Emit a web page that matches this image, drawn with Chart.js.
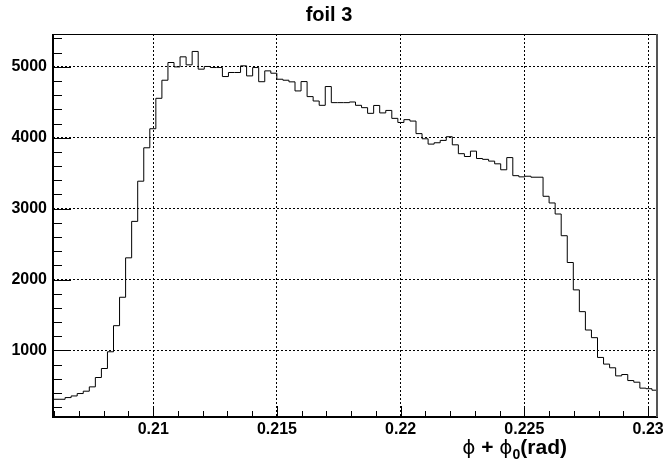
<!DOCTYPE html>
<html>
<head>
<meta charset="utf-8">
<title>foil 3</title>
<script src="https://cdn.jsdelivr.net/npm/chart.js@4/dist/chart.umd.min.js"></script>
<style>
  html, body { margin: 0; padding: 0; background: #fff; }
  #wrap { width: 663px; height: 461px; }
</style>
</head>
<body>
<div id="wrap"><canvas id="foil-chart" width="663" height="461"></canvas></div>
<script>
// ---- histogram data (100 bins) ----
const binLow = 0.20595;
const binHigh = 0.2304;

const counts = [
  311, 335, 358, 392, 425, 486, 618, 745, 981, 1349,
  1750, 2306, 2820, 3387, 3858, 4127, 4556, 4811, 5061, 4999,
  5141, 5028, 5217, 4967, 5005, 4990, 4990, 4863, 4920, 4920,
  5014, 4872, 4990, 4790, 4943, 4910, 4825, 4811, 4788, 4660,
  4792, 4580, 4518, 4457, 4722, 4495, 4495, 4495, 4504, 4457,
  4424, 4344, 4455, 4350, 4385, 4273, 4215, 4255, 4235, 4058,
  3985, 3910, 3929, 3962, 4014, 3900, 3775, 3735, 3811, 3707,
  3695, 3670, 3632, 3548, 3720, 3465, 3448, 3457, 3443, 3443,
  3174, 3080, 2924, 2618, 2240, 1854, 1547, 1288, 1180, 901,
  807, 755, 641, 660, 575, 552, 468, 460, 439, 425
];

const xTickValues = [0.21, 0.215, 0.22, 0.225, 0.23];
const xTickLabels = ['0.21', '0.215', '0.22', '0.225', '0.23'];
const xMinorTicks = [0.206, 0.207, 0.208, 0.209, 0.211, 0.212, 0.213, 0.214, 0.216, 0.217,
  0.218, 0.219, 0.221, 0.222, 0.223, 0.224, 0.226, 0.227, 0.228, 0.229];

const yMin = 61;
const yMax = 5463;
const yTickValues = [1000, 2000, 3000, 4000, 5000];
const yTickLabels = ['1000', '2000', '3000', '4000', '5000'];
const yMinorTicks = [200, 400, 600, 800, 1200, 1400, 1600, 1800, 2200, 2400, 2600, 2800,
  3200, 3400, 3600, 3800, 4200, 4400, 4600, 4800, 5200, 5400];

const FONT = '"Liberation Sans", Arial, Helvetica, sans-serif';

// step points at bin edges (value of bin i held from edge i to edge i+1)
const binWidth = (binHigh - binLow) / counts.length;
const points = [{ x: binLow, y: counts[0] }];
counts.forEach((v, i) => points.push({ x: binLow + (i + 1) * binWidth, y: v }));

// frame + ROOT style inner ticks
const framePlugin = {
    id: 'frame',
    afterDraw(chart) {
        const { ctx, chartArea: a, scales } = chart;
        ctx.save();
        ctx.strokeStyle = '#000';
        ctx.lineWidth = 1;

        // y ticks
        yTickValues.forEach(v => {
            const y = Math.round(scales.y.getPixelForValue(v)) + 0.5;
            ctx.beginPath(); ctx.moveTo(a.left, y); ctx.lineTo(a.left + 18, y); ctx.stroke();
        });
        yMinorTicks.forEach(v => {
            const y = Math.round(scales.y.getPixelForValue(v)) + 0.5;
            ctx.beginPath(); ctx.moveTo(a.left, y); ctx.lineTo(a.left + 9, y); ctx.stroke();
        });
        // x ticks
        xTickValues.forEach(v => {
            const x = Math.round(scales.x.getPixelForValue(v)) + 0.5;
            ctx.beginPath(); ctx.moveTo(x, a.bottom); ctx.lineTo(x, a.bottom - 11); ctx.stroke();
        });
        xMinorTicks.forEach(v => {
            const x = Math.round(scales.x.getPixelForValue(v)) + 0.5;
            ctx.beginPath(); ctx.moveTo(x, a.bottom); ctx.lineTo(x, a.bottom - 6); ctx.stroke();
        });

        // box
        ctx.strokeRect(a.left + 0.5, a.top + 0.5, a.right - a.left - 1, a.bottom - a.top - 1);
        ctx.lineWidth = 2;
        ctx.beginPath(); ctx.moveTo(a.left, a.top); ctx.lineTo(a.left, a.bottom); ctx.lineTo(a.right, a.bottom); ctx.stroke();
        ctx.strokeStyle = '#555';
        ctx.beginPath(); ctx.moveTo(a.right - 1, a.top); ctx.lineTo(a.right - 1, a.bottom); ctx.stroke();

        // axis title: phi + phi_0(rad), right aligned
        const PHI = '"DejaVu Sans", ' + FONT;
        const parts = [
            { t: '\u03D5', f: '20px ' + PHI, dy: 0 },
            { t: ' + ', f: 'bold 21px ' + FONT, dy: 0 },
            { t: '\u03D5', f: '20px ' + PHI, dy: 0 },
            { t: '0', f: 'bold 14px ' + FONT, dy: 5 },
            { t: '(rad)', f: 'bold 21px ' + FONT, dy: 0 }
        ];
        let total = 0;
        parts.forEach(p => { ctx.font = p.f; p.w = ctx.measureText(p.t).width; total += p.w; });
        let x = 567 - total;
        const base = 454;
        ctx.fillStyle = '#000';
        ctx.textBaseline = 'alphabetic';
        ctx.textAlign = 'left';
        parts.forEach(p => { ctx.font = p.f; ctx.fillText(p.t, x, base + p.dy); x += p.w; });
        ctx.restore();
    }
};

new Chart(document.getElementById('foil-chart'), {
    type: 'line',
    data: {
        datasets: [{
            data: points,
            borderColor: '#000',
            borderWidth: 1,
            pointRadius: 0,
            stepped: 'before',
            fill: false
        }]
    },
    options: {
        responsive: false,
        animation: false,
        layout: { padding: { left: 0, right: 5, top: 0, bottom: 0 } },
        plugins: {
            legend: { display: false },
            tooltip: { enabled: false },
            title: {
                display: true,
                text: 'foil 3',
                color: '#000',
                font: { family: FONT, size: 20, weight: 'bold' },
                padding: { top: 3, bottom: 7 }
            }
        },
        scales: {
            x: {
                type: 'linear',
                min: binLow,
                max: binHigh,
                afterBuildTicks: s => { s.ticks = xTickValues.map(v => ({ value: v })); },
                afterFit: s => { s.height = 44; s.paddingLeft = 0; s.paddingRight = 0; },
                ticks: {
                    callback: (v, i) => xTickLabels[i],
                    color: '#000',
                    font: { family: FONT, size: 16, weight: 'bold' },
                    padding: 3,
                    maxRotation: 0,
                    autoSkip: false
                },
                grid: { color: '#000', lineWidth: 1, drawTicks: false },
                border: { display: false, dash: [2, 2] }
            },
            y: {
                min: yMin,
                max: yMax,
                afterBuildTicks: s => { s.ticks = yTickValues.map(v => ({ value: v })); },
                afterFit: s => { s.width = 53; s.paddingTop = 0; s.paddingBottom = 0; },
                ticks: {
                    callback: (v, i) => yTickLabels[i],
                    color: '#000',
                    font: { family: FONT, size: 16, weight: 'bold' },
                    padding: 6,
                    autoSkip: false
                },
                grid: { color: '#000', lineWidth: 1, drawTicks: false },
                border: { display: false, dash: [2, 2] }
            }
        }
    },
    plugins: [framePlugin]
});
</script>
</body>
</html>
